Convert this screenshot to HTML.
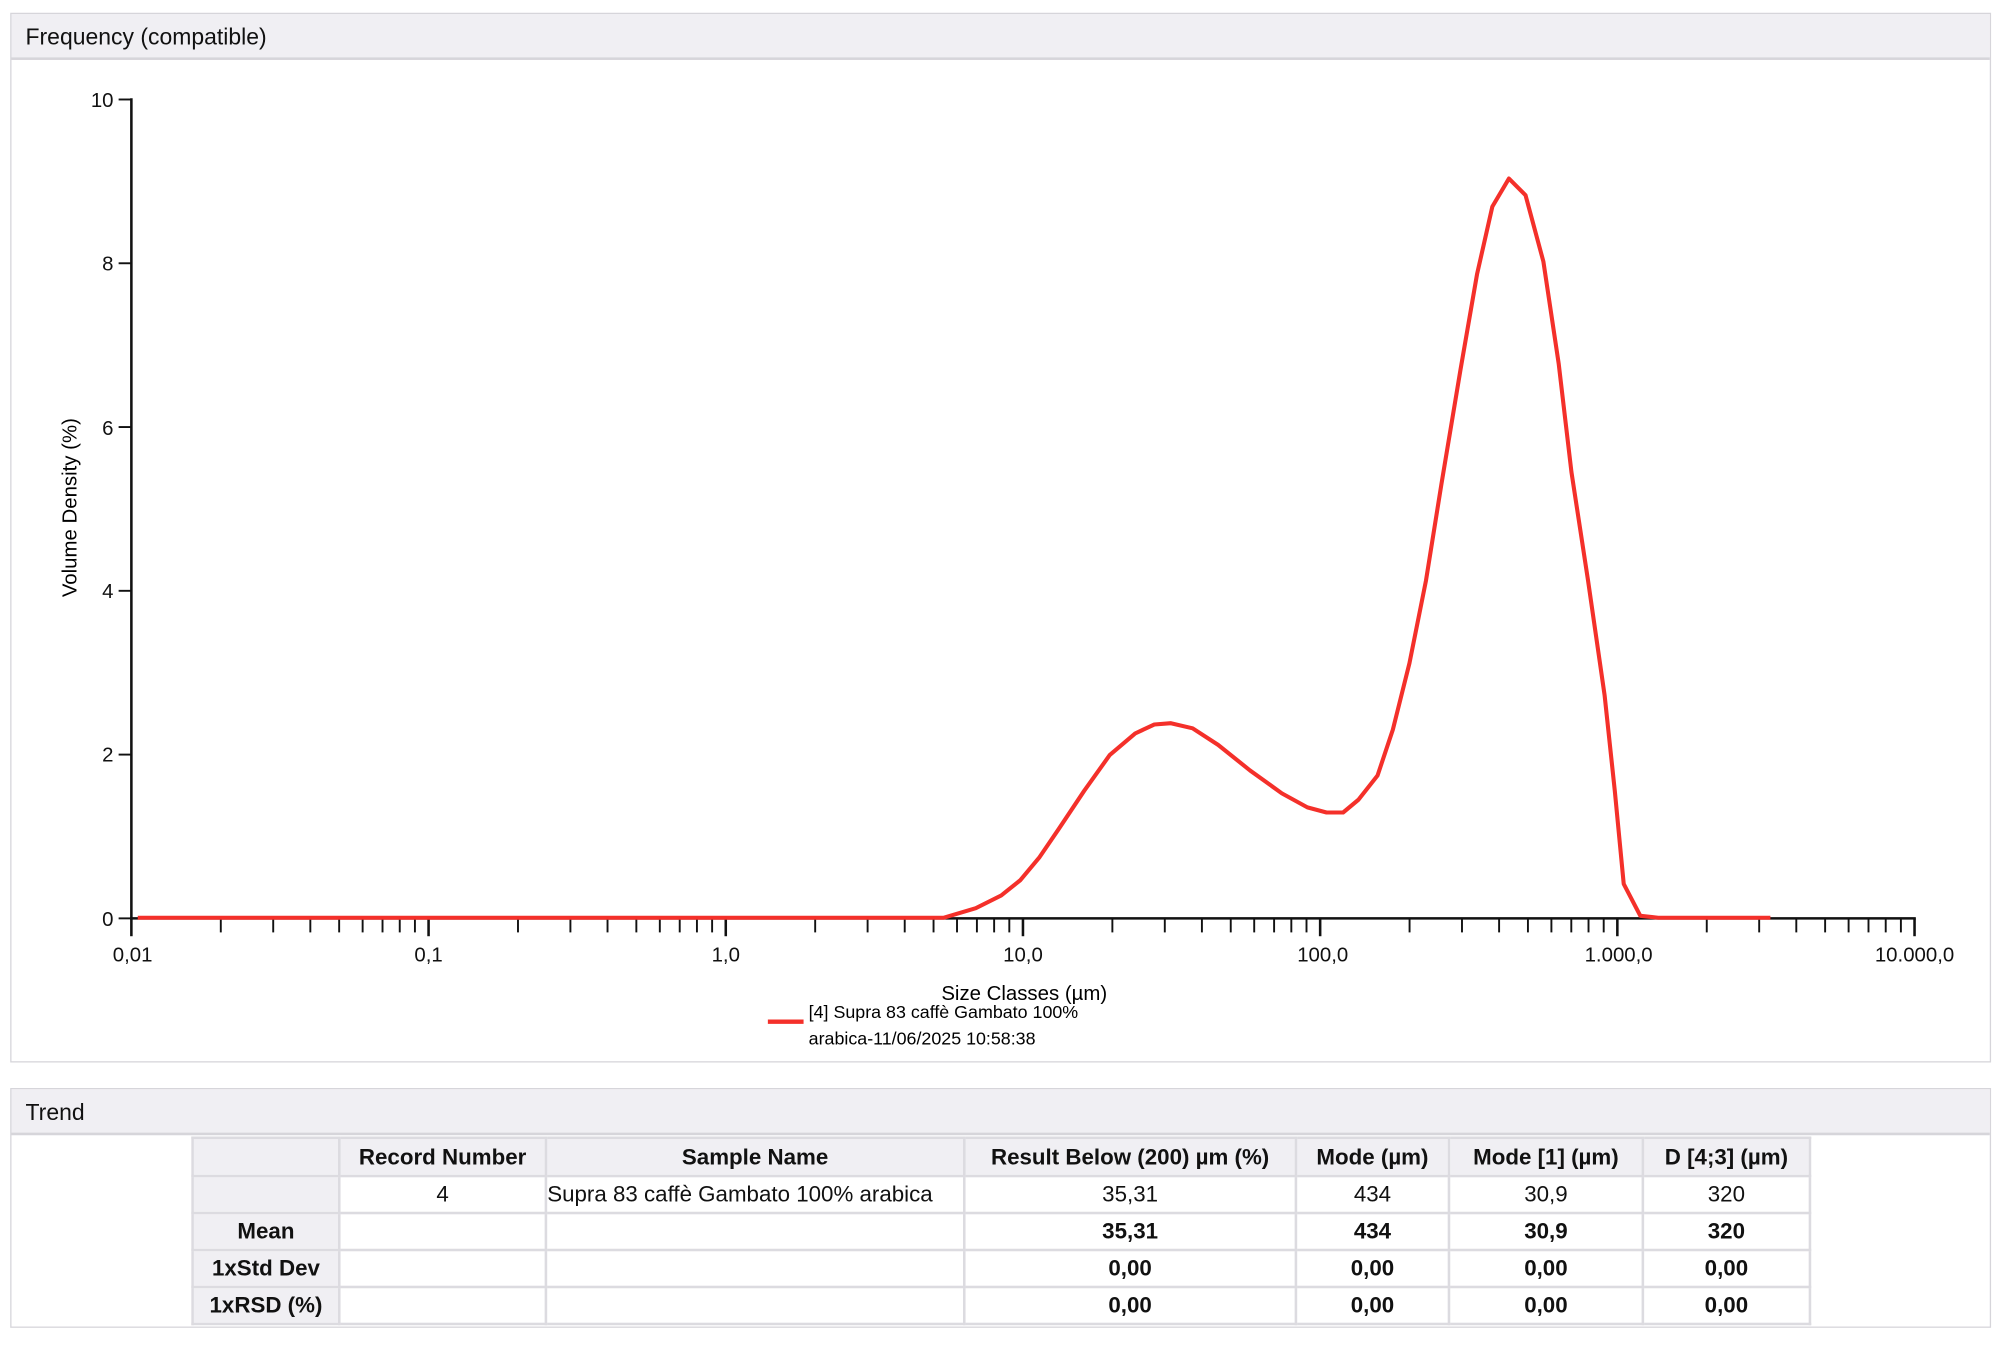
<!DOCTYPE html>
<html><head><meta charset="utf-8"><style>
html,body{margin:0;padding:0;background:#fff;width:2000px;height:1346px;overflow:hidden}
#w{position:absolute;left:0;top:0;width:1568px;height:1055.3px;transform:scale(1.27551);transform-origin:0 0;font-family:"Liberation Sans",sans-serif;color:#111}
.panel{position:absolute;left:8px;width:1551px;border:1px solid #d6d5da;background:#fff}
.hdr{position:absolute;left:0;top:0;right:0;height:36px;background:#f0eff3;border-bottom:2px solid #d6d5da;font-size:18px;line-height:36px;padding-left:11px;box-sizing:border-box}
table{position:absolute;left:141px;top:37px;border-collapse:collapse;font-size:17.5px;table-layout:fixed;width:1268px}
td{border:2px solid #dcdbe0;height:25px;padding:0;text-align:center;white-space:nowrap;overflow:hidden}
.g{background:#f0eff3;font-weight:bold}
.b{font-weight:bold}
</style></head><body><div id="w">
<div class="panel" style="top:10px;height:821px"><div class="hdr">Frequency (compatible)</div></div>
<svg style="position:absolute;left:0;top:0" width="1568" height="1056" font-family="Liberation Sans, sans-serif">
<defs><g id="dec" stroke="#111" stroke-width="1.5">
<line x1="70.1" y1="720" x2="70.1" y2="731"/><line x1="111.2" y1="720" x2="111.2" y2="731"/><line x1="140.3" y1="720" x2="140.3" y2="731"/><line x1="162.9" y1="720" x2="162.9" y2="731"/><line x1="181.3" y1="720" x2="181.3" y2="731"/><line x1="196.9" y1="720" x2="196.9" y2="731"/><line x1="210.4" y1="720" x2="210.4" y2="731"/><line x1="222.3" y1="720" x2="222.3" y2="731"/><line x1="233" y1="720" x2="233" y2="734" stroke-width="2"/></g></defs>
<g transform="translate(103,0)"><use href="#dec"/></g>
<g transform="translate(336,0)"><use href="#dec"/></g>
<g transform="translate(569,0)"><use href="#dec"/></g>
<g transform="translate(802,0)"><use href="#dec"/></g>
<g transform="translate(1035,0)"><use href="#dec"/></g>
<g transform="translate(1268,0)"><use href="#dec"/></g>
<line x1="103" y1="720" x2="103" y2="734" stroke="#111" stroke-width="2"/>
<line x1="103" y1="77" x2="103" y2="721" stroke="#111" stroke-width="2"/>
<line x1="102" y1="720" x2="1502" y2="720" stroke="#111" stroke-width="2"/>
<g stroke="#111" stroke-width="1.5"><line x1="93" y1="720" x2="103" y2="720"/><line x1="93" y1="591.6" x2="103" y2="591.6"/><line x1="93" y1="463.2" x2="103" y2="463.2"/><line x1="93" y1="334.8" x2="103" y2="334.8"/><line x1="93" y1="206.4" x2="103" y2="206.4"/><line x1="93" y1="78" x2="103" y2="78"/></g>
<g font-size="16" text-anchor="end" fill="#111"><text x="89" y="726">0</text><text x="89" y="597">2</text><text x="89" y="469">4</text><text x="89" y="341">6</text><text x="89" y="212">8</text><text x="89" y="84">10</text></g>
<g font-size="16" text-anchor="middle" fill="#111"><text x="104" y="754">0,01</text><text x="336" y="754">0,1</text><text x="569" y="754">1,0</text><text x="802" y="754">10,0</text><text x="1037" y="754">100,0</text><text x="1269" y="754">1.000,0</text><text x="1501" y="754">10.000,0</text></g>
<text x="803" y="784" font-size="16" text-anchor="middle">Size Classes (µm)</text>
<text transform="translate(60,398) rotate(-90)" font-size="16" text-anchor="middle">Volume Density (%)</text>
<polyline fill="none" stroke="#f4302a" stroke-width="3.2" stroke-linejoin="round" points="108,719.5 740,719.5 765,712 785,702 800,690 815,672 830,650 850,620 870,592 890,575 905,568 918,567 935,571 955,584 980,604 1005,622 1025,633 1040,637 1053,637 1065,627 1080,608 1092,572 1105,520 1118,455 1130,380 1145,290 1158,215 1170,162 1183,140 1196,153 1210,205 1222,285 1232,370 1245,455 1258,545 1266,620 1273,693 1286,718 1300,719.5 1388,719.5"/>
<line x1="602" y1="801" x2="630" y2="801" stroke="#f4302a" stroke-width="3.5"/>
<text x="634" y="798" font-size="14">[4] Supra 83 caffè Gambato 100%</text>
<text x="634" y="819" font-size="14">arabica-11/06/2025 10:58:38</text>
</svg>
<div class="panel" style="top:853px;height:186px"><div class="hdr">Trend</div>
<table>
<colgroup><col style="width:115px"><col style="width:162px"><col style="width:328px"><col style="width:260px"><col style="width:120px"><col style="width:152px"><col style="width:131px"></colgroup>
<tr style="height:30px"><td class="g"></td><td class="g">Record Number</td><td class="g">Sample Name</td><td class="g">Result Below (200) µm (%)</td><td class="g">Mode (µm)</td><td class="g">Mode [1] (µm)</td><td class="g">D [4;3] (µm)</td></tr>
<tr style="height:29px"><td class="g"></td><td>4</td><td style="text-align:left">Supra 83 caffè Gambato 100% arabica</td><td>35,31</td><td>434</td><td>30,9</td><td>320</td></tr>
<tr style="height:29px"><td class="g">Mean</td><td></td><td></td><td class="b">35,31</td><td class="b">434</td><td class="b">30,9</td><td class="b">320</td></tr>
<tr style="height:29px"><td class="g">1xStd Dev</td><td></td><td></td><td class="b">0,00</td><td class="b">0,00</td><td class="b">0,00</td><td class="b">0,00</td></tr>
<tr style="height:29px"><td class="g">1xRSD (%)</td><td></td><td></td><td class="b">0,00</td><td class="b">0,00</td><td class="b">0,00</td><td class="b">0,00</td></tr>
</table></div>
</div></body></html>
